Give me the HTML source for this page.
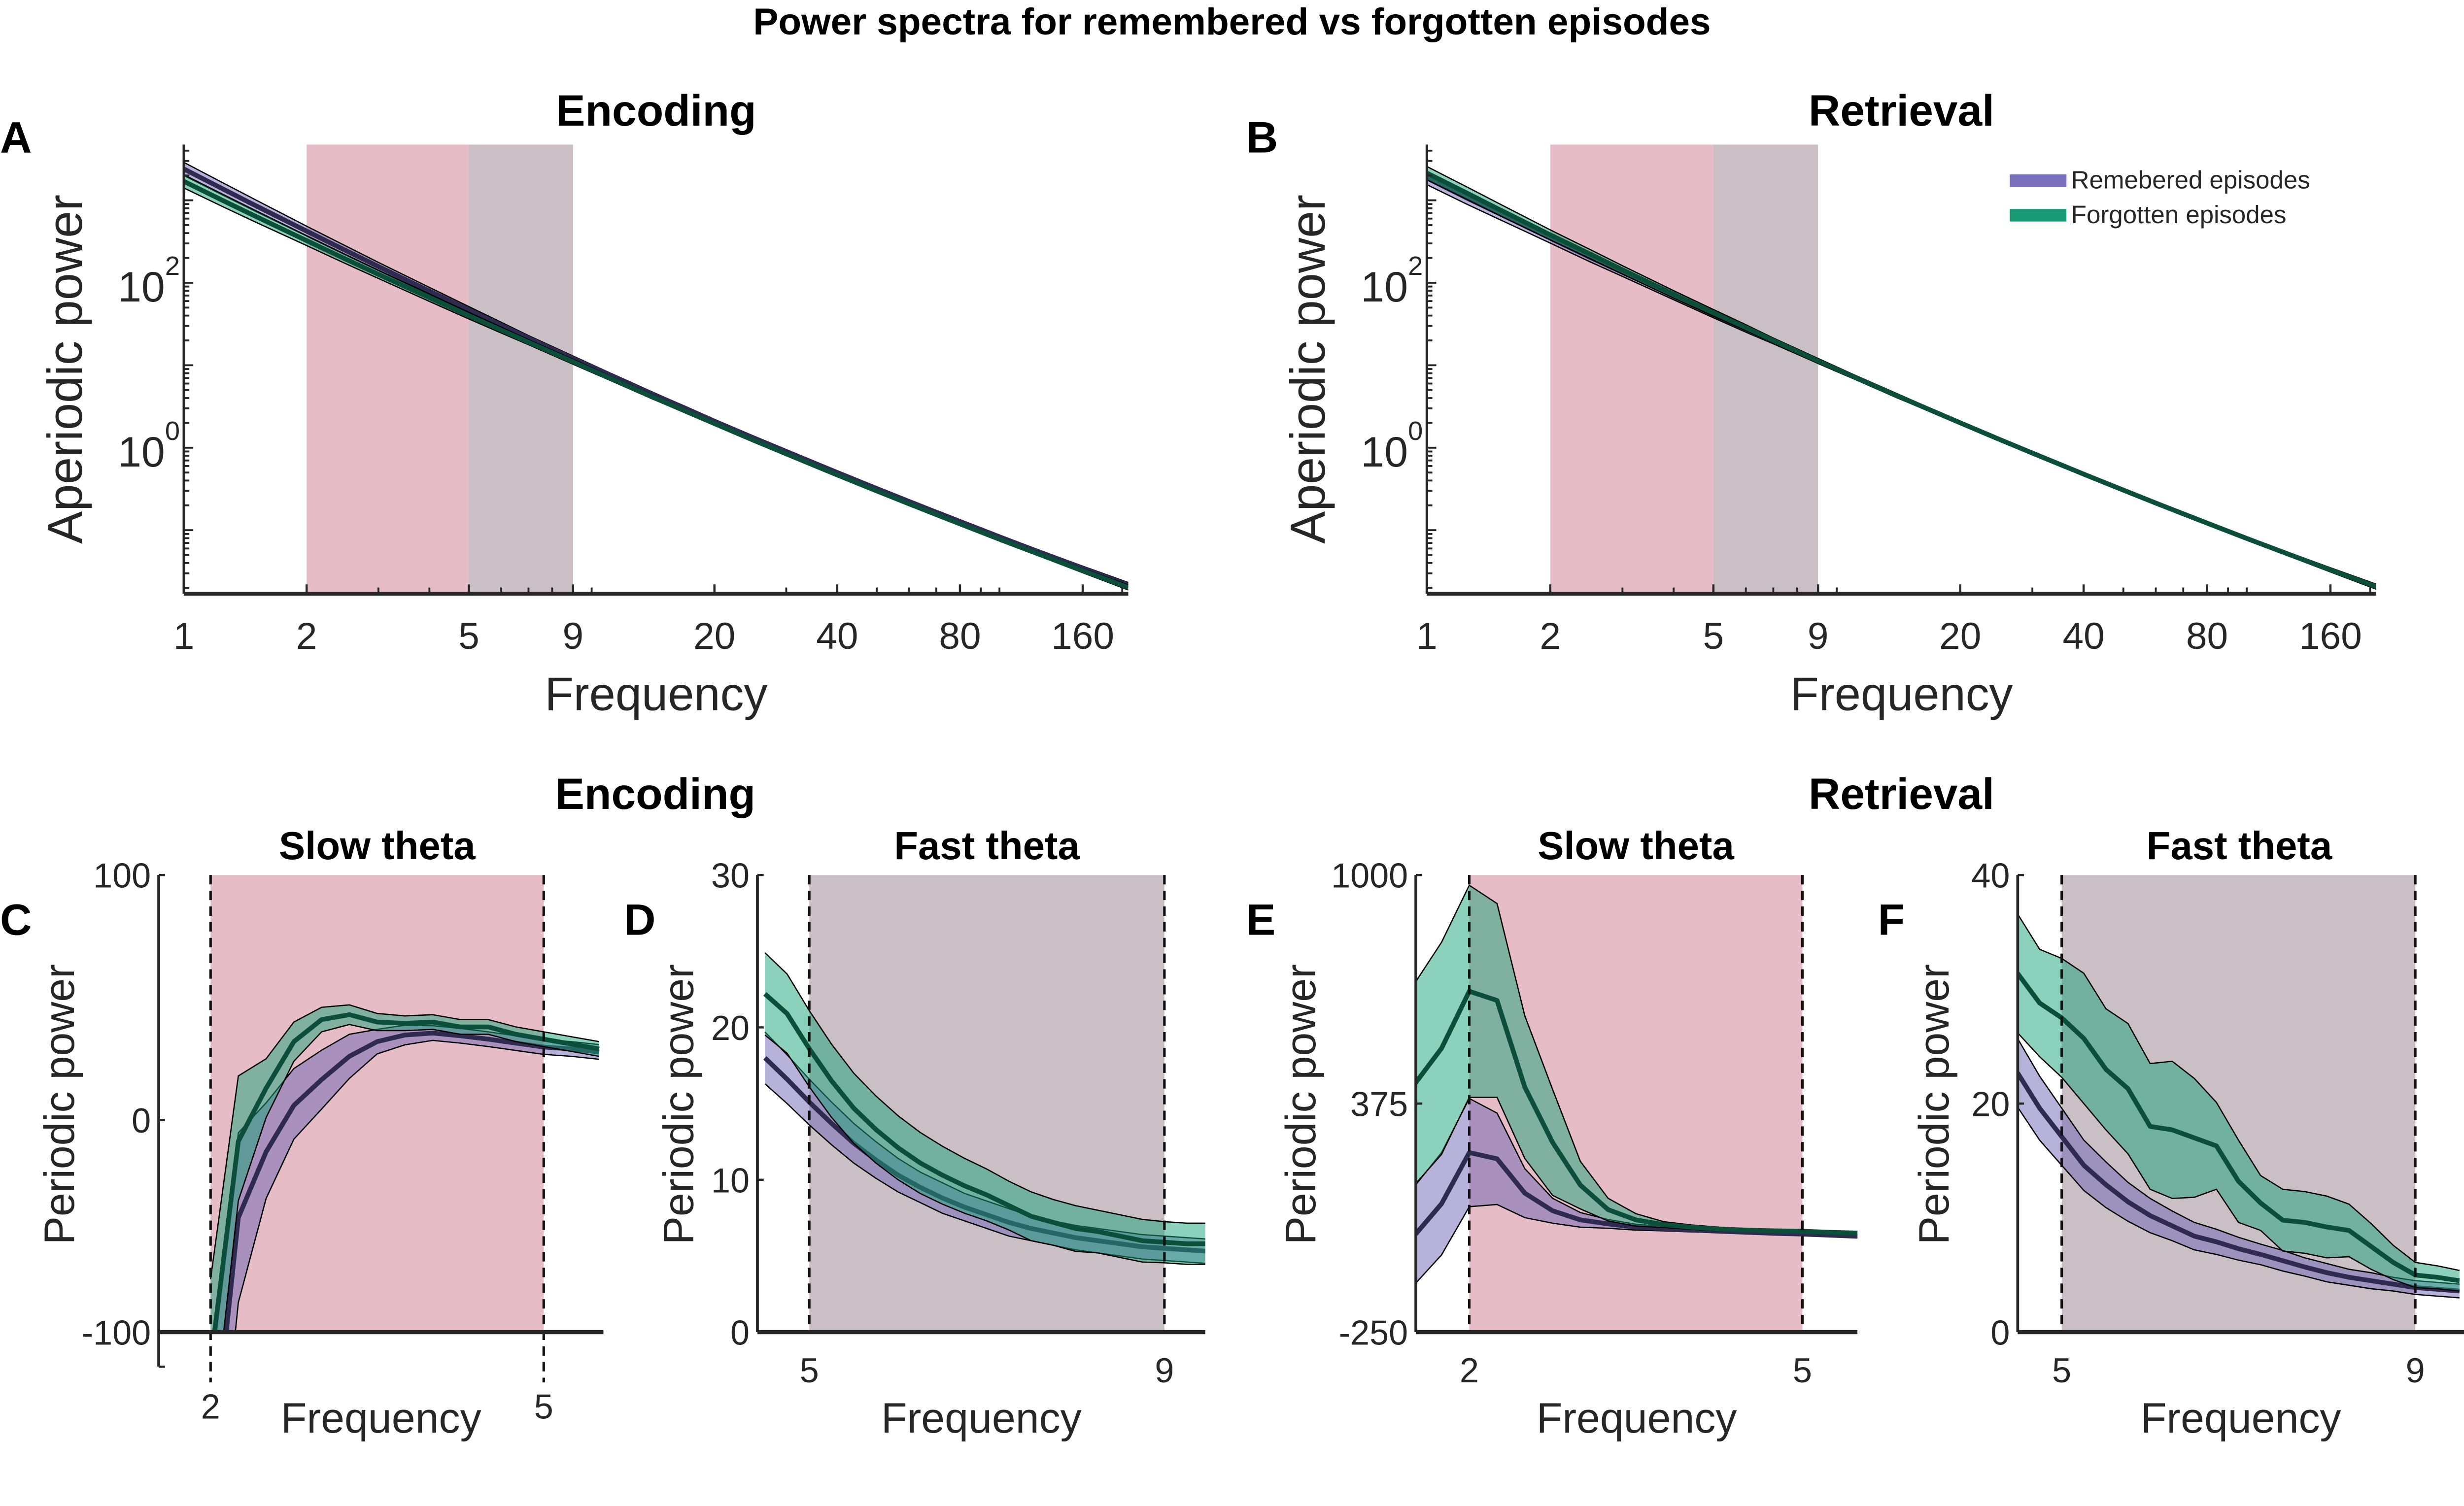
<!DOCTYPE html>
<html><head><meta charset="utf-8"><style>
html,body{margin:0;padding:0;background:#fff;overflow:hidden;}
svg{display:block;width:100vw;height:58.5459vw;}
text{font-family:"Liberation Sans",sans-serif;fill:#262626;}
.b{font-weight:bold;fill:#000;}
</style></head><body>
<svg id="fig" xmlns="http://www.w3.org/2000/svg" viewBox="0 0 1568 918" preserveAspectRatio="none">
<text class="b" x="784" y="22" text-anchor="middle" font-size="24">Power spectra for remembered vs forgotten episodes</text>
<g id="root"></g>
</svg>
<script>
// ---------- Data ----------
const apFreqs = [1,1.25,1.5,2,2.5,3,4,5,6,7,9,11,14,17,20,25,30,40,50,60,80,100,120,160,207];
const apBaseLog = [3.30,3.059,2.865,2.561,2.329,2.142,1.849,1.626,1.446,1.295,1.052,0.860,0.632,0.452,0.302,0.098,-0.065,-0.320,-0.514,-0.671,-0.914,-1.10,-1.249,-1.481,-1.685];
const encRemOff = [0.08,0.075,0.07,0.065,0.06,0.055,0.05,0.045,0.04,0.035,0.03,0.03,0.025,0.025,0.02,0.02,0.02,0.02,0.02,0.02,0.02,0.02,0.02,0.02,0.02];
const encForOff = [-0.07,-0.065,-0.06,-0.05,-0.045,-0.04,-0.03,-0.025,-0.02,-0.015,-0.01,-0.01,-0.01,-0.01,-0.01,-0.01,-0.01,-0.01,-0.01,-0.01,-0.01,-0.01,-0.01,-0.01,-0.01];
const retRemOff = [-0.03,-0.03,-0.025,-0.02,-0.02,-0.015,-0.01,-0.01,-0.01,-0.005,0,0,0,0,0,0,0,0,0,0,0,0,0,0,0];
const retForOff = [0.03,0.03,0.025,0.02,0.02,0.015,0.01,0.01,0.01,0.005,0,0,0,0,0,0,0,0,0,0,0,0,0,0,0];
const apRemSem = [0.08,0.075,0.07,0.06,0.055,0.05,0.045,0.04,0.035,0.03,0.03,0.025,0.025,0.02,0.02,0.02,0.02,0.02,0.02,0.02,0.02,0.02,0.02,0.025,0.03];
const apForSem = [0.08,0.075,0.07,0.06,0.055,0.05,0.045,0.04,0.035,0.03,0.03,0.025,0.025,0.02,0.02,0.02,0.02,0.02,0.02,0.02,0.02,0.02,0.02,0.025,0.03];
const apXTicks = [1,2,5,9,20,40,80,160];
const apXMinor = [3,4,6,7,8,10,30,50,60,70,90,100,200];
const cFreqs = [2,2.25,2.5,2.75,3,3.25,3.5,3.75,4,4.25,4.5,4.75,5,5.25,5.5];
const cFor = [-115,-10,13,32,41,43,40,39.5,40,38,38,35,33,31,29];
const cForSem = [40,28,12,8,5,4,3.5,3,3,3,3,3,3,3,3];
const cRem = [-170,-46,-15,6,16.5,26,32,34.7,35.5,34.4,33,31.4,29.8,29,27.8];
const cRemSem = [45,40,22,15,12,9,5,4,3,3,3,3,3,3,3];
const dFreqs = [4.5,4.75,5,5.25,5.5,5.75,6,6.25,6.5,6.75,7,7.25,7.5,7.75,8,8.25,8.5,8.75,9,9.25,9.5];
const dFor = [22.2,20.9,18.6,16.5,14.7,13.3,12.1,11.1,10.3,9.6,9.0,8.3,7.6,7.2,6.8,6.6,6.3,6.0,5.9,5.8,5.8];
const dForSem = [2.7,2.6,2.5,2.4,2.3,2.2,2.1,2.0,1.9,1.8,1.7,1.6,1.6,1.5,1.5,1.4,1.4,1.4,1.35,1.35,1.35];
const dRem = [18.0,16.6,15.1,13.7,12.4,11.3,10.3,9.5,8.8,8.2,7.7,7.2,6.8,6.5,6.2,6.0,5.8,5.6,5.5,5.4,5.3];
const dRemSem = [1.7,1.6,1.5,1.4,1.3,1.2,1.1,1.0,1.0,0.9,0.9,0.9,0.8,0.8,0.8,0.8,0.8,0.8,0.8,0.8,0.8];
const eFreqs = [1.5,1.75,2,2.25,2.5,2.75,3,3.25,3.5,3.75,4,4.25,4.5,4.75,5,5.25,5.5];
const eFor = [425,526,682,657,420,269,152,85,57,44,37,32,29,27,26,23,21];
const eForSem = [275,290,290,265,195,145,65,31,17,8,6,5,4,4,3,3,3];
const eRem = [12,101,241,224,130,82,57,46,37,33,29,26,23,20,18,15,12];
const eRemSem = [134,140,148,125,67,34,20,12,8,6,5,4,4,3,3,3,3];
const fFreqs = [4.5,4.75,5,5.25,5.5,5.75,6,6.25,6.5,6.75,7,7.25,7.5,7.75,8,8.25,8.5,8.75,9,9.25,9.5];
const fFor = [31.4,28.8,27.5,25.7,23,21.3,18,17.7,17,16.3,13.2,11.3,9.8,9.6,9.2,8.9,7.5,6.1,5.0,4.8,4.5];
const fForSem = [5.2,4.7,5.2,5.7,5.3,5.7,5.5,6,5.2,3.8,3.6,2.4,2.7,2.7,2.7,2.3,2.0,1.5,1.1,1.0,0.9];
const fRem = [22.7,19.6,17.1,14.6,12.9,11.4,10.2,9.3,8.4,7.9,7.3,6.8,6.25,5.7,5.2,4.8,4.5,4.2,3.9,3.75,3.6];
const fRemSem = [3,2.8,2.5,2.2,2,1.7,1.5,1.3,1.2,1.1,1,0.9,0.9,0.8,0.8,0.7,0.7,0.6,0.6,0.6,0.6];

// ---------- Helpers ----------
const NS = "http://www.w3.org/2000/svg";
const root = document.getElementById('root');
function el(tag, attrs, parent) {
  const e = document.createElementNS(NS, tag);
  for (const k in attrs) e.setAttribute(k, attrs[k]);
  (parent || root).appendChild(e);
  return e;
}
function txt(s, x, y, size, opts, parent) {
  const t = el('text', Object.assign({x: x, y: y, 'font-size': size}, opts || {}), parent);
  t.textContent = s;
  return t;
}
function piecewise(dom, rng) {
  return function (v) {
    let i = 0;
    while (i < dom.length - 2 && v > dom[i + 1]) i++;
    return rng[i] + (v - dom[i]) / (dom[i + 1] - dom[i]) * (rng[i + 1] - rng[i]);
  };
}
const PUR_FILL = '#6e66b3', GRN_FILL = '#1aa37a', PUR_LINE = '#2e2a50', GRN_LINE = '#0b4f3a';
let clipId = 0;
function drawSeries(g, xs, mean, sem, sx, sy, fill, lineCol, name) {
  let up = '', lo = '', m = '';
  for (let i = 0; i < xs.length; i++) {
    up += (i ? 'L' : 'M') + sx(xs[i]).toFixed(2) + ',' + sy(mean[i] + sem[i]).toFixed(2);
    m += (i ? 'L' : 'M') + sx(xs[i]).toFixed(2) + ',' + sy(mean[i]).toFixed(2);
  }
  for (let i = xs.length - 1; i >= 0; i--) lo += 'L' + sx(xs[i]).toFixed(2) + ',' + sy(mean[i] - sem[i]).toFixed(2);
  const band = el('path', {d: up + lo + 'Z', fill: fill, 'fill-opacity': 0.5, stroke: 'none'}, g);
  
  
  let lowEdge = '';
  for (let i = 0; i < xs.length; i++) lowEdge += (i ? 'L' : 'M') + sx(xs[i]).toFixed(2) + ',' + sy(mean[i] - sem[i]).toFixed(2);
  const e1 = el('path', {d: up, fill: 'none', stroke: '#000', 'stroke-width': 0.8}, g);
  
  
  const e2 = el('path', {d: lowEdge, fill: 'none', stroke: '#000', 'stroke-width': 0.8}, g);
  
  
  const ml = el('path', {d: m, fill: 'none', stroke: lineCol, 'stroke-width': 3, 'stroke-linejoin': 'round'}, g);
  
  
}
function clipGroup(x0, y0, x1, y1, name) {
  const id = 'clip' + (clipId++);
  const cp = el('clipPath', {id: id});
  el('rect', {x: x0, y: y0, width: x1 - x0, height: y1 - y0}, cp);
  const g = el('g', {'clip-path': 'url(#' + id + ')'});
  
  
  return g;
}

// ---------- Top panels ----------
function topPanel(o) {
  const X0 = o.x0, X1 = o.x1, Y0 = 92, Y1 = 378;
  const pxDec = (o.x160 - X0) / Math.log10(160);
  const sx = f => X0 + Math.log10(f) * pxDec;
  const sy = l => 180 - (l - 2) * 52.5;
  const remMean = apBaseLog.map((v, i) => v + o.remOff[i]);
  const forMean = apBaseLog.map((v, i) => v + o.forOff[i]);
  const g = clipGroup(X0, Y0, X1, Y1, o.key + '-plot-area');
  const r1 = el('rect', {x: sx(2), y: Y0, width: sx(5) - sx(2), height: Y1 - Y0, fill: '#e6bdc6'}, g);
  
  
  const r2 = el('rect', {x: sx(5), y: Y0, width: sx(9) - sx(5), height: Y1 - Y0, fill: '#cbbfc6'}, g);
  
  
  drawSeries(g, apFreqs, remMean, apRemSem, sx, sy, PUR_FILL, PUR_LINE, 'remembered');
  drawSeries(g, apFreqs, forMean, apForSem, sx, sy, GRN_FILL, GRN_LINE, 'forgotten');
  const ax = el('g', {});
  
  
  el('line', {x1: X0, y1: Y0, x2: X0, y2: Y1, stroke: '#262626', 'stroke-width': 1.6}, ax);
  el('line', {x1: X0, y1: Y1, x2: X1, y2: Y1, stroke: '#262626', 'stroke-width': 2.4}, ax);
  for (let d = -2; d <= 3; d++) for (let k = 1; k <= 9; k++) {
    const y = sy(d + Math.log10(k));
    if (y < Y0 || y > Y1) continue;
    el('line', {x1: X0, y1: y, x2: X0 + (k === 1 ? 6 : 3.5), y2: y, stroke: '#262626', 'stroke-width': 1.2}, ax);
  }
  const yt1 = txt('10', X0 - 12, 192, 27, {'text-anchor': 'end'}, ax);
  
  
  txt('2', X0 - 12, 175, 17, {'text-anchor': 'start'}, ax);
  const yt0 = txt('10', X0 - 12, 297, 27, {'text-anchor': 'end'}, ax);
  
  
  txt('0', X0 - 12, 280, 17, {'text-anchor': 'start'}, ax);
  apXMinor.forEach(f => { if (sx(f) <= X1) el('line', {x1: sx(f), y1: Y1, x2: sx(f), y2: Y1 - 4, stroke: '#262626', 'stroke-width': 1.2}, ax); });
  apXTicks.forEach(f => {
    el('line', {x1: sx(f), y1: Y1, x2: sx(f), y2: Y1 - 6, stroke: '#262626', 'stroke-width': 1.4}, ax);
    const t = txt(String(f), sx(f), 413, 24, {'text-anchor': 'middle'}, ax);
    
    
  });
  const xl = txt('Frequency', (X0 + X1) / 2, 452, 30, {'text-anchor': 'middle'}, ax);
  
  
  const yl = txt('Aperiodic power', 0, 0, 31, {'text-anchor': 'middle', transform: 'translate(' + (X0 - 65) + ',235) rotate(-90)'}, ax);
  
  
  const ti = txt(o.title, (X0 + X1) / 2, 80, 28, {'text-anchor': 'middle', class: 'b'}, ax);
  
  
  const lt = txt(o.letter, o.letterX, 97, 28, {class: 'b'}, ax);
  
  
}
topPanel({key: 'panel-a', x0: 117, x1: 718, x160: 689, remOff: encRemOff, forOff: encForOff, title: 'Encoding', letter: 'A', letterX: 0});
topPanel({key: 'panel-b', x0: 908, x1: 1512, x160: 1483, remOff: retRemOff, forOff: retForOff, title: 'Retrieval', letter: 'B', letterX: 793});

const lg = el('g', {});


const le1 = el('line', {x1: 1279, y1: 115, x2: 1315, y2: 115, stroke: '#7b70bd', 'stroke-width': 8}, lg);


const lt1 = txt('Remebered episodes', 1318, 120, 16, {}, lg);


const le2 = el('line', {x1: 1279, y1: 137, x2: 1315, y2: 137, stroke: '#1a9a75', 'stroke-width': 8}, lg);


const lt2 = txt('Forgotten episodes', 1318, 142, 16, {}, lg);



// ---------- Bottom panels ----------
const sub1 = txt('Encoding', 417, 515, 28, {'text-anchor': 'middle', class: 'b'});


const sub2 = txt('Retrieval', 1210, 515, 28, {'text-anchor': 'middle', class: 'b'});



function bottomPanel(o) {
  const X0 = o.x0, X1 = o.x1, Y0 = 557, Y1 = 848;
  const pxHz = (o.bx1 - o.bx0) / (o.f1 - o.f0);
  const sx = f => o.bx0 + (f - o.f0) * pxHz;
  const sy = piecewise(o.yDom, o.yRng);
  const g = clipGroup(X0, Y0, X1, Y1, o.key + '-plot-area');
  const r = el('rect', {x: o.bx0, y: Y0, width: o.bx1 - o.bx0, height: Y1 - Y0, fill: o.shade}, g);
  
  
  drawSeries(g, o.freqs, o.rem, o.remSem, sx, sy, PUR_FILL, PUR_LINE, 'remembered');
  drawSeries(g, o.freqs, o.forg, o.forSem, sx, sy, GRN_FILL, GRN_LINE, 'forgotten');
  const ax = el('g', {});
  
  
  [o.f0, o.f1].forEach(f => {
    const dl = el('line', {x1: sx(f), y1: Y0, x2: sx(f), y2: o.dashEnd, stroke: '#111', 'stroke-width': 1.6, 'stroke-dasharray': '6,4'}, ax);
    
    
    const t = txt(String(f), sx(f), o.xLabY, 22, {'text-anchor': 'middle'}, ax);
    
    
  });
  el('line', {x1: X0, y1: Y0, x2: X0, y2: o.axEnd, stroke: '#262626', 'stroke-width': 1.8}, ax);
  el('line', {x1: X0, y1: Y1, x2: X1, y2: Y1, stroke: '#262626', 'stroke-width': 2.6}, ax);
  if (o.axEnd > Y1) el('line', {x1: X0, y1: o.axEnd, x2: X0 + 4, y2: o.axEnd, stroke: '#262626', 'stroke-width': 1.4}, ax);
  o.yTicks.forEach(v => {
    el('line', {x1: X0, y1: sy(v), x2: X0 + 4, y2: sy(v), stroke: '#262626', 'stroke-width': 1.4}, ax);
    const t = txt(String(v), X0 - 5, sy(v) + 8, 22, {'text-anchor': 'end'}, ax);
    
    
  });
  const xl = txt('Frequency', (X0 + X1) / 2, 912, 27, {'text-anchor': 'middle'}, ax);
  
  
  const yl = txt('Periodic power', 0, 0, 27, {'text-anchor': 'middle', transform: 'translate(' + o.ylX + ',703) rotate(-90)'}, ax);
  
  
  const ti = txt(o.title, o.titleX, 547, 25, {'text-anchor': 'middle', class: 'b'}, ax);
  
  
  const lt = txt(o.letter, o.letterX, 595, 28, {class: 'b'}, ax);
  
  
}
bottomPanel({key: 'panel-c', x0: 101, x1: 384, bx0: 134, bx1: 346, f0: 2, f1: 5, shade: '#e6bdc6',
  yDom: [-100, 0, 100], yRng: [848, 713, 557], yTicks: [-100, 0, 100],
  freqs: cFreqs, rem: cRem, remSem: cRemSem, forg: cFor, forSem: cForSem,
  dashEnd: 880, axEnd: 870, xLabY: 903, ylX: 47, title: 'Slow theta', titleX: 240, letter: 'C', letterX: 0});
bottomPanel({key: 'panel-d', x0: 482, x1: 767, bx0: 515, bx1: 741, f0: 5, f1: 9, shade: '#cbbfc6',
  yDom: [0, 30], yRng: [848, 557], yTicks: [0, 10, 20, 30],
  freqs: dFreqs, rem: dRem, remSem: dRemSem, forg: dFor, forSem: dForSem,
  dashEnd: 848, axEnd: 848, xLabY: 880, ylX: 441, title: 'Fast theta', titleX: 628, letter: 'D', letterX: 397});
bottomPanel({key: 'panel-e', x0: 901, x1: 1182, bx0: 935, bx1: 1147, f0: 2, f1: 5, shade: '#e6bdc6',
  yDom: [-250, 1000], yRng: [848, 557], yTicks: [-250, 375, 1000],
  freqs: eFreqs, rem: eRem, remSem: eRemSem, forg: eFor, forSem: eForSem,
  dashEnd: 848, axEnd: 848, xLabY: 880, ylX: 837, title: 'Slow theta', titleX: 1041, letter: 'E', letterX: 793});
bottomPanel({key: 'panel-f', x0: 1284, x1: 1568, bx0: 1312, bx1: 1537, f0: 5, f1: 9, shade: '#cbbfc6',
  yDom: [0, 40], yRng: [848, 557], yTicks: [0, 20, 40],
  freqs: fFreqs, rem: fRem, remSem: fRemSem, forg: fFor, forSem: fForSem,
  dashEnd: 848, axEnd: 848, xLabY: 880, ylX: 1240, title: 'Fast theta', titleX: 1425, letter: 'F', letterX: 1195});
</script>
</body></html>
